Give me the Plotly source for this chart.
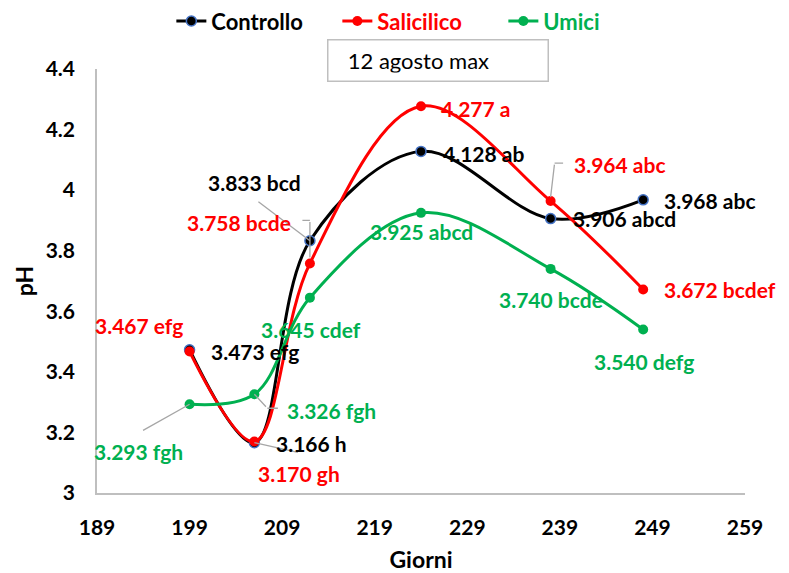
import plotly.graph_objects as go

# Giorni di campionamento e pH misurato per ciascun trattamento
giorni = [199, 206, 212, 224, 238, 248]
ph_controllo = [3.473, 3.166, 3.833, 4.128, 3.906, 3.968]
ph_salicilico = [3.467, 3.170, 3.758, 4.277, 3.964, 3.672]
ph_umici = [3.293, 3.326, 3.645, 3.925, 3.740, 3.540]

# Lettere di significatività accanto ai valori
lettere_controllo = ["efg", "h", "bcd", "ab", "abcd", "abc"]
lettere_salicilico = ["efg", "gh", "bcde", "a", "abc", "bcdef"]
lettere_umici = ["fgh", "fgh", "cdef", "abcd", "bcde", "defg"]

x_ticks = [189, 199, 209, 219, 229, 239, 249, 259]
y_ticks = [3, 3.2, 3.4, 3.6, 3.8, 4, 4.2, 4.4]

NERO = "#000000"
ROSSO = "#FF0000"
VERDE = "#00B050"
BLU = "#4472C4"
GRIGIO = "#A6A6A6"
FONT = "Lato"

fig = go.Figure()

fig.add_trace(go.Scatter(
    x=giorni, y=ph_controllo, name="<span style='color:#000000'>Controllo</span>",
    mode="lines+markers", line=dict(color=NERO, width=3, shape="spline", smoothing=1),
    marker=dict(size=10, color=NERO, line=dict(color=BLU, width=1.5)),
))
fig.add_trace(go.Scatter(
    x=giorni, y=ph_salicilico, name="<span style='color:#FF0000'>Salicilico</span>",
    mode="lines+markers", line=dict(color=ROSSO, width=3, shape="spline", smoothing=1),
    marker=dict(size=10, color=ROSSO),
))
fig.add_trace(go.Scatter(
    x=giorni, y=ph_umici, name="<span style='color:#00B050'>Umici</span>",
    mode="lines+markers", line=dict(color=VERDE, width=3, shape="spline", smoothing=1),
    marker=dict(size=10, color=VERDE),
))

# Spostamenti (pixel) delle etichette rispetto al punto
shift_controllo = [(65, -2), (57, -1), (-55, 58), (62, -2), (74, 0), (67, -1)]
shift_salicilico = [(-51, 26), (45, -32), (-71, 41), (54, -2), (69, 37), (77, 0)]
shift_umici = [(-51, -47), (77, -16), (1, -32), (0, -19), (0, -31), (1, -32)]

serie = [
    (ph_controllo, lettere_controllo, shift_controllo, NERO),
    (ph_salicilico, lettere_salicilico, shift_salicilico, ROSSO),
    (ph_umici, lettere_umici, shift_umici, VERDE),
]

# Linee guida grigie: (serie, indice, xshift, yshift, ax, ay)
guide = [
    (0, 1, 0, 0, 45, 10),
    (0, 2, 0, 0, -53, -40),
    (1, 2, 0, 6, 0, -37),
    (1, 2, 0, 43, -9, 0),
    (1, 4, 0, 4, 4, -34),
    (1, 4, 4, 38, 10, 0),
    (2, 0, 0, 0, -48, 27),
    (2, 1, 0, 0, 13, 14),
    (2, 1, 13, -14, 12, 0),
]
for s, i, xs, ys, ax, ay in guide:
    fig.add_annotation(
        x=giorni[i], y=serie[s][0][i], text="", showarrow=True,
        arrowhead=0, arrowwidth=1.3, arrowcolor=GRIGIO,
        ax=ax, ay=ay, xshift=xs, yshift=ys, standoff=0, startstandoff=0,
    )

for valori, lettere, shifts, col in serie:
    for g, v, l, (xs, ys) in zip(giorni, valori, lettere, shifts):
        fig.add_annotation(
            x=g, y=v, text=f"{v:.3f} {l}", showarrow=False,
            xshift=xs, yshift=ys,
            font=dict(family=FONT, size=21, color=col, weight="bold"),
        )

# Riquadro del titolo
fig.add_annotation(
    xref="paper", yref="paper", x=0.526, y=1.019, xanchor="center", yanchor="middle",
    text="&nbsp;&nbsp;12 agosto max", showarrow=False, align="left",
    font=dict(family=FONT, size=22, color="#000000"),
    bordercolor="#BFBFBF", borderwidth=1.5, borderpad=8, bgcolor="white",
    width=203, height=24,
)

fig.update_layout(
    width=789, height=573,
    margin=dict(l=97, r=44, t=69, b=80),
    paper_bgcolor="white", plot_bgcolor="white",
    font=dict(family=FONT, size=20, color="#000000"),
    showlegend=True,
    legend=dict(
        orientation="h", x=0.499, xref="paper", y=0.963, yref="container",
        xanchor="center", yanchor="middle",
        font=dict(family=FONT, size=22, color="#000000", weight="bold"),
        entrywidth=121, entrywidthmode="pixels",
        tracegroupgap=0, bgcolor="rgba(0,0,0,0)",
    ),
)
fig.update_xaxes(
    range=[189, 259], tickvals=x_ticks, ticktext=[str(t) for t in x_ticks],
    showgrid=False, zeroline=False, showline=True, linecolor="#BFBFBF", linewidth=1.5,
    ticks="", ticklabelstandoff=15, automargin=False,
    tickfont=dict(family=FONT, size=21, color="#000000", weight="bold"),
    title=dict(text="Giorni", font=dict(family=FONT, size=23, weight="bold"), standoff=18),
)
fig.update_yaxes(
    range=[3, 4.4], tickvals=y_ticks, ticktext=[f"{t:g}" for t in y_ticks],
    showgrid=False, zeroline=False, showline=True, linecolor="#BFBFBF", linewidth=1.5,
    ticks="", ticklabelstandoff=16, automargin=False,
    tickfont=dict(family=FONT, size=21, color="#000000", weight="bold"),
    title=dict(text="pH", font=dict(family=FONT, size=23, weight="bold"), standoff=6),
)

fig.write_html("out.html")
